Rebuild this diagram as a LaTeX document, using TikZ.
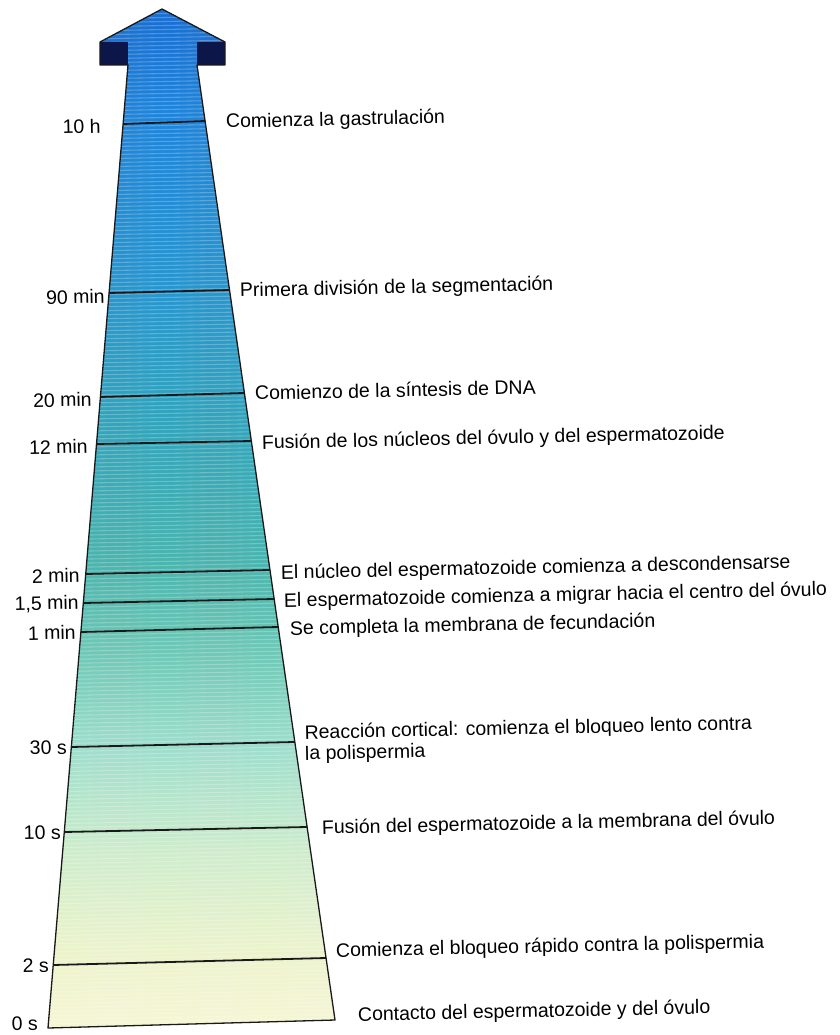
\documentclass[tikz,border=0pt]{standalone}
\usepackage{fontspec}
\setmainfont{Liberation Sans}
\usetikzlibrary{calc}
\definecolor{c0}{RGB}{246,246,212}
\definecolor{c1}{RGB}{236,243,204}
\definecolor{c2}{RGB}{206,236,204}
\definecolor{c3}{RGB}{160,222,204}
\definecolor{c4}{RGB}{110,200,182}
\definecolor{c5}{RGB}{74,180,174}
\definecolor{c6}{RGB}{50,164,188}
\definecolor{c7}{RGB}{40,150,206}
\definecolor{c8}{RGB}{32,132,218}
\definecolor{c9}{RGB}{26,110,208}
\definecolor{navy}{RGB}{12,22,72}
\pgfdeclareverticalshading{shaftshade}{100bp}{color(0bp)=(c0); color(25bp)=(c0); color(28.8bp)=(c1); color(33.7bp)=(c2); color(38.6bp)=(c3); color(43.5bp)=(c4); color(47.9bp)=(c5); color(54.8bp)=(c6); color(61.2bp)=(c7); color(70.1bp)=(c8); color(75bp)=(c9); color(100bp)=(c9)}
\begin{document}
\begin{tikzpicture}[x=1pt,y=-1pt,
  lbl/.style={font=\fontsize{19.5}{21}\selectfont, inner sep=0pt, rotate=1.2, text=black},
  timelbl/.style={lbl, anchor=base east},
  evlbl/.style={lbl, anchor=base west, align=left},
  tline/.style={line width=1.8pt, black!90},
  outline/.style={line width=1.3pt, black!90}]
\useasboundingbox (0,0) rectangle (839,1035);
\coordinate (tip) at (162,9);
\coordinate (hl) at (100,42);
\coordinate (hr) at (225,42);
\coordinate (wl) at (100,65);
\coordinate (wr) at (225,65);
\coordinate (TL) at (128,65);
\coordinate (TR) at (197,65);
\coordinate (BL) at (48,1028);
\coordinate (BR) at (335,1020);
% arrow body with colour gradient
\shade[shading=shaftshade] (tip) -- (hr) -- (wr) -- (TR) -- (BR) -- (BL) -- (TL) -- (wl) -- (hl) -- cycle;
% printed stripes
\begin{scope}
\clip (tip) -- (hr) -- (wr) -- (TR) -- (BR) -- (BL) -- (TL) -- (wl) -- (hl) -- cycle;
\foreach \y in {12,16,...,1040} \draw[white, opacity=0.24, line width=1.1pt] (40,\y) -- (340,\y-6);
\end{scope}
% dark wings of the arrow head
\fill[navy] (hl) rectangle (TL);
\fill[navy] (TR) rectangle (hr);
\draw[outline, line join=round] (tip) -- (hr) -- (wr) -- (TR) -- (BR) -- (BL) -- (TL) -- (wl) -- (hl) -- cycle;
% time lines
\foreach \n/\l/\r in {h10/124/121, m90/293/290, m20/397/393, m12/444/441, m2/574/570, m15/603/599, m1/632/627, s30/747/742, s10/832/827, s2/965/958} {
  \coordinate (\n L) at ($(TL)!{(\l-65)/963}!(BL)$);
  \coordinate (\n R) at ($(TR)!{(\r-65)/955}!(BR)$);
  \draw[tline] (\n L) -- (\n R);
}
% time labels
\node[timelbl] (t10h) at (101,133) {10 h};
\node[timelbl] (t90) at (105,303) {90 min};
\node[timelbl] (t20) at (92,406) {20 min};
\node[timelbl] (t12) at (88,453) {12 min};
\node[timelbl] (t2m) at (80,582) {2 min};
\node[timelbl] (t15) at (79,609) {1,5 min};
\node[timelbl] (t1m) at (76,639) {1 min};
\node[timelbl] (t30) at (67,754) {30 s};
\node[timelbl] (t10s) at (61,839) {10 s};
\node[timelbl] (t2s) at (49,972) {2 s};
\node[timelbl] (t0s) at (38,1030) {0 s};
% event labels
\node[evlbl] (e10h) at (226,128) {Comienza la gastrulación};
\node[evlbl] (e90) at (240,297) {Primera división de la segmentación};
\node[evlbl] (e20) at (255,400) {Comienzo de la síntesis de DNA};
\node[evlbl] (e12) at (262,449) {Fusión de los núcleos del óvulo y del espermatozoide};
\node[evlbl] (e2m) at (281,579) {El núcleo del espermatozoide comienza a descondensarse};
\node[evlbl] (e15) at (284,607) {El espermatozoide comienza a migrar hacia el centro del óvulo};
\node[evlbl] (e1m) at (290,635) {Se completa la membrana de fecundación};
\node[evlbl] (e30) at (305,760) {Reacción cortical: comienza el bloqueo lento contra\\la polispermia};
\node[evlbl] (e10s) at (322,834) {Fusión del espermatozoide a la membrana del óvulo};
\node[evlbl] (e2s) at (336,957) {Comienza el bloqueo rápido contra la polispermia};
\node[evlbl] (e0s) at (358,1021) {Contacto del espermatozoide y del óvulo};
\end{tikzpicture}
\end{document}
